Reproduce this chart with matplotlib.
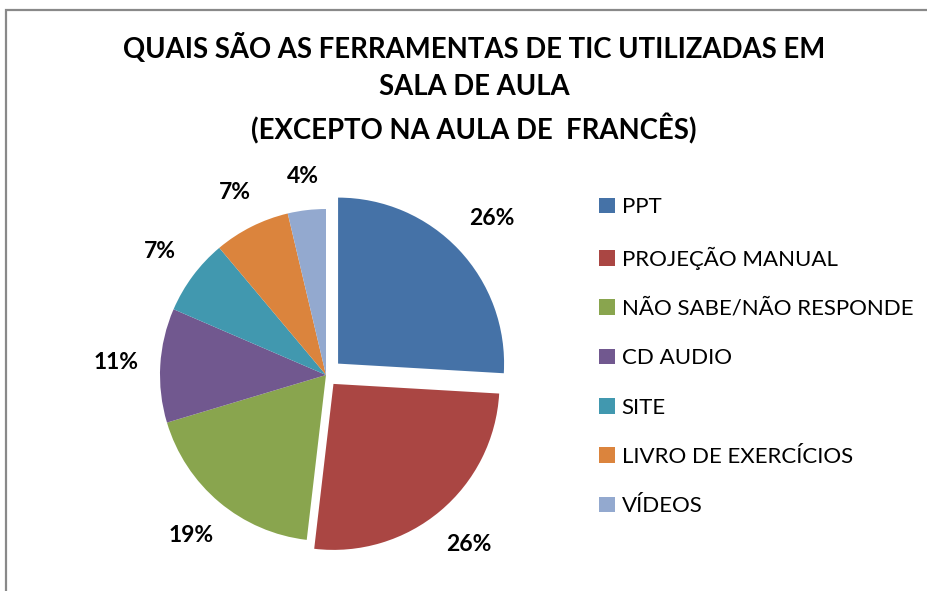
import numpy as np
import matplotlib.pyplot as plt
from matplotlib.patches import Rectangle

# counts (26%, 26%, 19%, 11%, 7%, 7%, 4%)
categorias = ["PPT", "PROJEÇÃO MANUAL", "NÃO SABE/NÃO RESPONDE", "CD AUDIO",
              "SITE", "LIVRO DE EXERCÍCIOS", "VÍDEOS"]
valores = [7, 7, 5, 3, 2, 2, 1]
cores = ["#4572A7", "#AA4643", "#89A54E", "#71588F", "#4198AF", "#DB843D", "#93A9CF"]
afastamento = [0.1, 0.07, 0, 0, 0, 0, 0]

titulo = "QUAIS SÃO AS FERRAMENTAS DE TIC UTILIZADAS EM\nSALA DE AULA\n(EXCEPTO NA AULA DE  FRANCÊS)"

plt.rcParams['font.family'] = ['Lato', 'DejaVu Sans']

W, H = 928, 591
fig = plt.figure(figsize=(W / 100, H / 100), dpi=100)

# gray chart frame, cut off at right and bottom like the original
fig.add_artist(Rectangle((6.5 / W, -0.1), 1.2, 1 - 9.5 / H + 0.1,
                         transform=fig.transFigure, fill=False,
                         edgecolor="#898989", linewidth=1.6))

fig.text(474 / W, 1 - 89 / H, titulo, ha="center", va="center",
         fontsize=19.8, fontweight="bold", linespacing=1.52)

r = 166
cx, cy = 326, 375
ax = fig.add_axes([(cx - r) / W, 1 - (cy + r) / H, 2 * r / W, 2 * r / H])
cunhas, _, pcts = ax.pie(valores, colors=cores, explode=afastamento,
                         startangle=90, counterclock=False, radius=1,
                         autopct=lambda p: "{:.0f}%".format(p), pctdistance=1.25,
                         wedgeprops=dict(linewidth=0))
for t in pcts:
    t.set_fontsize(16.5)
    t.set_fontweight("bold")
ax.set_xlim(-1, 1)
ax.set_ylim(-1, 1)
ax.set_aspect("equal")

# place labels just outside each slice, like Excel's "outside end"
fig.canvas.draw()
rend = fig.canvas.get_renderer()
for w, t in zip(cunhas, pcts):
    ang = np.deg2rad((w.theta1 + w.theta2) / 2)
    c, s = np.cos(ang), np.sin(ang)
    bb = t.get_window_extent(rend)
    hw = bb.width / ax.bbox.width
    hh = bb.height / ax.bbox.height
    d = 1.13 + abs(c) * hw + abs(s) * hh
    x0, y0 = w.center
    t.set_position((x0 + d * c, y0 + d * s))

fig.legend(cunhas, categorias, loc="upper left",
           bbox_to_anchor=(588 / W, 1 - 186 / H), frameon=False,
           fontsize=16, handlelength=0.7, handleheight=0.7,
           handletextpad=0.32, labelspacing=1.32, borderpad=0)

fig.savefig("out.png", dpi=100)
